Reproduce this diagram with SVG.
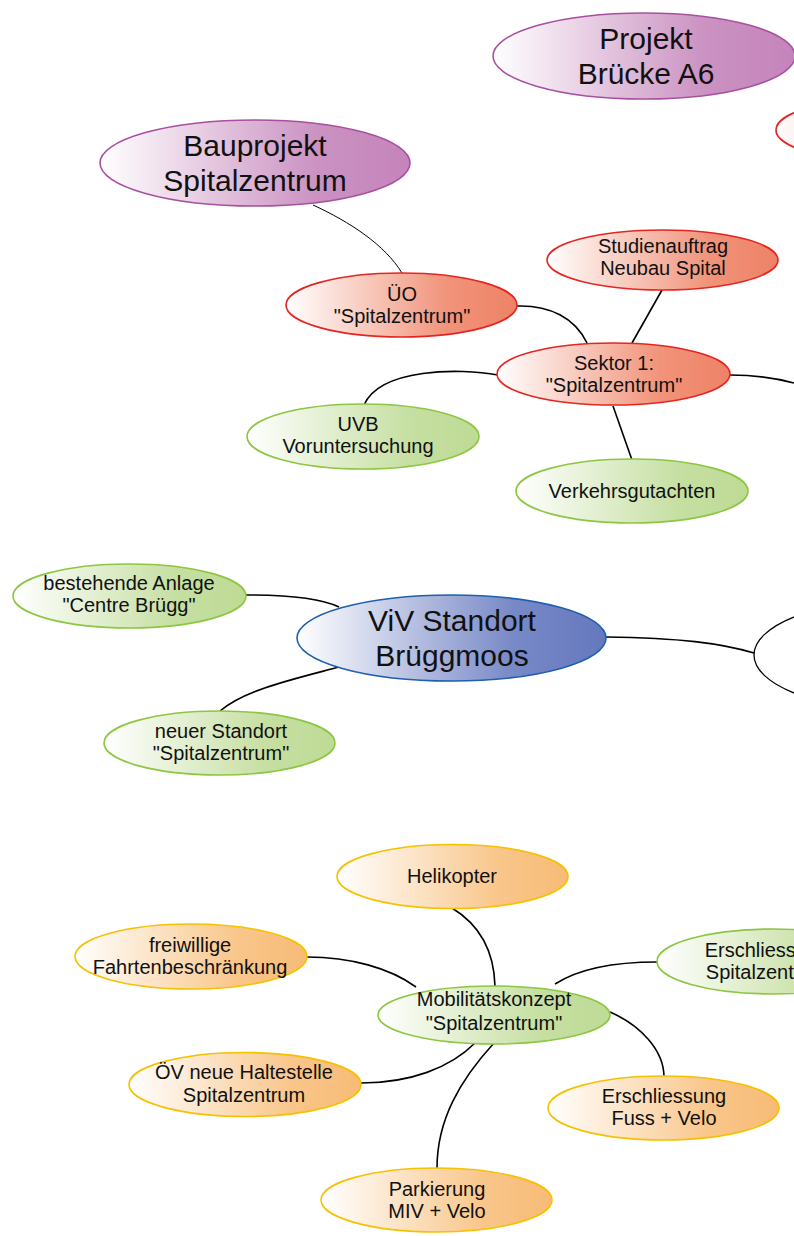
<svg xmlns="http://www.w3.org/2000/svg" width="794" height="1236" viewBox="0 0 794 1236">
<defs>
<linearGradient id="gPurple" x1="0" y1="0" x2="1" y2="0"><stop offset="0" stop-color="#ffffff"/><stop offset="0.7" stop-color="#cb92c2"/><stop offset="1" stop-color="#c584bb"/></linearGradient>
<linearGradient id="gRed" x1="0" y1="0" x2="1" y2="0"><stop offset="0" stop-color="#ffffff"/><stop offset="0.7" stop-color="#f1937a"/><stop offset="1" stop-color="#ee8266"/></linearGradient>
<linearGradient id="gGreen" x1="0" y1="0" x2="1" y2="0"><stop offset="0" stop-color="#ffffff"/><stop offset="0.7" stop-color="#c6dfa2"/><stop offset="1" stop-color="#bedb95"/></linearGradient>
<linearGradient id="gBlue" x1="0" y1="0" x2="1" y2="0"><stop offset="0" stop-color="#ffffff"/><stop offset="0.7" stop-color="#7889c7"/><stop offset="1" stop-color="#6578bd"/></linearGradient>
<linearGradient id="gOrange" x1="0" y1="0" x2="1" y2="0"><stop offset="0" stop-color="#ffffff"/><stop offset="0.7" stop-color="#f9c68a"/><stop offset="1" stop-color="#f7bb76"/></linearGradient>
</defs>
<style>
.t{font-family:"Liberation Sans",Arial,sans-serif;fill:#111;text-anchor:middle}
.big{font-size:30px}
.sm{font-size:20px}
.purple{fill:url(#gPurple);stroke:#a8509f;stroke-width:1.6}
.red{fill:url(#gRed);stroke:#e52521;stroke-width:1.6}
.green{fill:url(#gGreen);stroke:#8dc641;stroke-width:1.6}
.blue{fill:url(#gBlue);stroke:#1f5fae;stroke-width:1.6}
.orange{fill:url(#gOrange);stroke:#f6c100;stroke-width:1.6}
.plain{fill:#fff;stroke:#000;stroke-width:1.3}
.c{fill:none;stroke:#000;stroke-width:1.6}
.thin{fill:none;stroke:#000;stroke-width:1}
</style>
<g id="connectors">
<path class="thin" d="M313,205 C350,222 385,245 402,273"/>
<path class="c" d="M517,306 C550,305 575,318 587,343"/>
<path class="c" d="M662,290 L632,343"/>
<path class="c" d="M498,375 C460,368 380,368 364,405"/>
<path class="c" d="M730,375 C755,375 775,378 794,383"/>
<path class="c" d="M613,406 L632,460"/>
<path class="c" d="M246,595 C290,595 320,598 339,607"/>
<path class="c" d="M339,667 C290,680 245,690 220,711"/>
<path class="c" d="M606,637 C680,638 720,643 754,653"/>
<path class="c" d="M452,908 C480,925 494,950 495,986"/>
<path class="c" d="M307,957 C350,957 390,968 416,987"/>
<path class="c" d="M555,984 C580,968 615,962 657,962"/>
<path class="c" d="M610,1012 C640,1025 664,1050 664,1077"/>
<path class="c" d="M475,1043 C450,1068 410,1083 361,1083"/>
<path class="c" d="M494,1043 C460,1080 437,1120 437,1168"/>
</g>
<g id="projekt-bruecke"><ellipse class="purple" cx="644" cy="56" rx="151" ry="43"/><text class="t big" x="646" y="49">Projekt</text><text class="t big" x="646" y="84">Brücke A6</text></g>
<g id="red-partial"><ellipse class="red" cx="891" cy="130" rx="115" ry="32"/></g>
<g id="bauprojekt"><ellipse class="purple" cx="255" cy="163" rx="155" ry="43"/><text class="t big" x="255" y="156">Bauprojekt</text><text class="t big" x="255" y="191">Spitalzentrum</text></g>
<g id="uo"><ellipse class="red" cx="401.5" cy="305" rx="115.5" ry="32"/><text class="t sm" x="402" y="301">ÜO</text><text class="t sm" x="402" y="323">"Spitalzentrum"</text></g>
<g id="studienauftrag"><ellipse class="red" cx="662.5" cy="260" rx="115.5" ry="30"/><text class="t sm" x="663" y="253">Studienauftrag</text><text class="t sm" x="663" y="275">Neubau Spital</text></g>
<g id="sektor1"><ellipse class="red" cx="613.5" cy="374" rx="116.5" ry="31"/><text class="t sm" x="614" y="370">Sektor 1:</text><text class="t sm" x="614" y="392">"Spitalzentrum"</text></g>
<g id="uvb"><ellipse class="green" cx="363" cy="436.5" rx="116" ry="32.5"/><text class="t sm" x="358" y="431">UVB</text><text class="t sm" x="358" y="453">Voruntersuchung</text></g>
<g id="verkehrsgutachten"><ellipse class="green" cx="632" cy="491" rx="116" ry="32"/><text class="t sm" x="632" y="498">Verkehrsgutachten</text></g>
<g id="viv"><ellipse class="blue" cx="451.5" cy="638" rx="154.5" ry="43"/><text class="t big" x="452" y="631">ViV Standort</text><text class="t big" x="452" y="666">Brüggmoos</text></g>
<g id="bestehende"><ellipse class="green" cx="129.5" cy="596" rx="116.5" ry="32"/><text class="t sm" x="129" y="590">bestehende Anlage</text><text class="t sm" x="129" y="612">"Centre Brügg"</text></g>
<g id="neuer-standort"><ellipse class="green" cx="219.5" cy="743" rx="115.5" ry="32"/><text class="t sm" x="221" y="738">neuer Standort</text><text class="t sm" x="221" y="760">"Spitalzentrum"</text></g>
<g id="black-partial"><ellipse class="plain" cx="905" cy="655" rx="151" ry="56"/></g>
<g id="helikopter"><ellipse class="orange" cx="452.5" cy="876.5" rx="115.5" ry="32"/><text class="t sm" x="452" y="883">Helikopter</text></g>
<g id="freiwillige"><ellipse class="orange" cx="191" cy="956.5" rx="116" ry="32.5"/><text class="t sm" x="190" y="952">freiwillige</text><text class="t sm" x="190" y="974">Fahrtenbeschränkung</text></g>
<g id="erschliessung-spital"><ellipse class="green" cx="773" cy="961.5" rx="116" ry="32.5"/><text class="t sm" x="767" y="957">Erschliessung</text><text class="t sm" x="767" y="979">Spitalzentrum</text></g>
<g id="mobilitaet"><ellipse class="green" cx="494" cy="1015" rx="116" ry="29"/><text class="t sm" x="494" y="1006">Mobilitätskonzept</text><text class="t sm" x="494" y="1030">"Spitalzentrum"</text></g>
<g id="oev"><ellipse class="orange" cx="245" cy="1084.5" rx="116" ry="32"/><text class="t sm" x="244" y="1079">ÖV neue Haltestelle</text><text class="t sm" x="244" y="1102">Spitalzentrum</text></g>
<g id="fuss-velo"><ellipse class="orange" cx="663.5" cy="1108" rx="115.5" ry="32"/><text class="t sm" x="664" y="1103">Erschliessung</text><text class="t sm" x="664" y="1125">Fuss + Velo</text></g>
<g id="parkierung"><ellipse class="orange" cx="436.5" cy="1200" rx="115.5" ry="32"/><text class="t sm" x="437" y="1196">Parkierung</text><text class="t sm" x="437" y="1218">MIV + Velo</text></g>
</svg>
